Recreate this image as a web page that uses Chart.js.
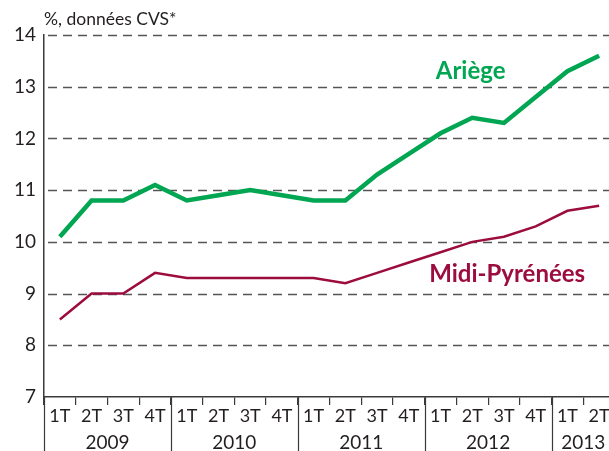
<!DOCTYPE html>
<html><head><meta charset="utf-8">
<script src="https://cdn.jsdelivr.net/npm/chart.js@4.4.0/dist/chart.umd.min.js"></script>
<style>html,body{margin:0;padding:0;overflow:hidden;background:#fff;width:609px;height:451px}</style>
</head><body>
<canvas id="c" width="615" height="451" style="display:block"></canvas>
<script>
const quarters = ["1T","2T","3T","4T","1T","2T","3T","4T","1T","2T","3T","4T","1T","2T","3T","4T","1T","2T"];
const years = ["2009","2010","2011","2012","2013"];
const quartersPerYear = [4,4,4,4,2];
const ariege = [10.1,10.8,10.8,11.1,10.8,10.9,11.0,10.9,10.8,10.8,11.3,11.7,12.1,12.4,12.3,12.8,13.3,13.6];
const midiPyrenees = [8.5,9.0,9.0,9.4,9.3,9.3,9.3,9.3,9.3,9.2,9.4,9.6,9.8,10.0,10.1,10.3,10.6,10.7];
const yTicks = [7,8,9,10,11,12,13,14];
const unitLabel = "%, données CVS*";
const seriesNames = ["Ariège","Midi-Pyrénées"];

const GREEN = "#00a651", RED = "#9c0c3f", TXT = "#231f20", FONT = "Lato, 'Open Sans', sans-serif";

const gridDash = {
  id: "gridDash",
  beforeDatasetsDraw(chart) {
    const ctx = chart.ctx, y = chart.scales.y, ca = chart.chartArea;
    ctx.save();
    ctx.strokeStyle = "#555"; ctx.lineWidth = 1.4; ctx.setLineDash([9, 6]);
    yTicks.forEach(v => {
      if (v === y.min) return;
      const py = Math.round(y.getPixelForValue(v)) + 0.5;
      ctx.beginPath(); ctx.moveTo(ca.left + 4, py); ctx.lineTo(ca.right, py); ctx.stroke();
    });
    ctx.restore();
  }
};

const extras = {
  id: "extras",
  afterDraw(chart) {
    const ctx = chart.ctx, x = chart.scales.x, y = chart.scales.y, ca = chart.chartArea;
    const half = (x.getPixelForValue(1) - x.getPixelForValue(0)) / 2;
    ctx.save();
    let start = 0;
    ctx.strokeStyle = "#3a3a3a"; ctx.lineWidth = 1.2;
    ctx.fillStyle = TXT; ctx.font = "19px " + FONT; ctx.textAlign = "center"; ctx.textBaseline = "middle";
    years.forEach((yr, i) => {
      const n = quartersPerYear[i];
      const xl = x.getPixelForValue(start) - half;
      const xr = x.getPixelForValue(start + n - 1) + half;
      ctx.beginPath(); ctx.moveTo(Math.round(xl)+0.5, ca.bottom); ctx.lineTo(Math.round(xl)+0.5, 451); ctx.stroke();
      ctx.fillText(yr, (xl + xr) / 2, 443);
      start += n;
    });
    ctx.textAlign = "left"; ctx.font = "17.5px " + FONT;
    ctx.fillText(unitLabel, ca.left, 19);
    ctx.font = "bold 24px " + FONT; ctx.textAlign = "center";
    ctx.fillStyle = GREEN;
    ctx.fillText(seriesNames[0], x.getPixelForValue(12.95), y.getPixelForValue(13.3));
    ctx.fillStyle = RED;
    ctx.fillText(seriesNames[1], x.getPixelForValue(14.1), y.getPixelForValue(9.38));
    ctx.restore();
  }
};

new Chart(document.getElementById("c"), {
  type: "line",
  data: {
    labels: quarters,
    datasets: [
      { label: seriesNames[0], data: ariege, borderColor: GREEN, borderWidth: 4.5, pointRadius: 0, tension: 0, borderJoinStyle: "miter" },
      { label: seriesNames[1], data: midiPyrenees, borderColor: RED, borderWidth: 2.5, pointRadius: 0, tension: 0, borderJoinStyle: "miter" }
    ]
  },
  options: {
    responsive: false, animation: false, devicePixelRatio: 1,
    layout: { padding: { top: 35, right: 0, left: 0, bottom: 0 } },
    plugins: { legend: { display: false }, tooltip: { enabled: false } },
    scales: {
      x: {
        type: "category", offset: true,
        grid: { drawOnChartArea: false, drawTicks: true, tickLength: 8, color: "#3a3a3a", lineWidth: 1.2, offset: true },
        border: { display: true, color: "#3a3a3a", width: 1.5 },
        ticks: { color: TXT, font: { family: FONT, size: 18 }, padding: 0, maxRotation: 0, autoSkip: false },
        afterFit(s) { s.height = 54; }
      },
      y: {
        min: 7, max: 14,
        afterBuildTicks(s) { s.ticks = yTicks.map(v => ({ value: v })); },
        grid: { display: false, drawTicks: false },
        border: { display: true, color: "#3a3a3a", width: 1.5 },
        ticks: { color: TXT, font: { family: FONT, size: 19 }, padding: 8 },
        afterFit(s) { s.width = 44; }
      }
    }
  },
  plugins: [gridDash, extras]
});
</script>
</body></html>
